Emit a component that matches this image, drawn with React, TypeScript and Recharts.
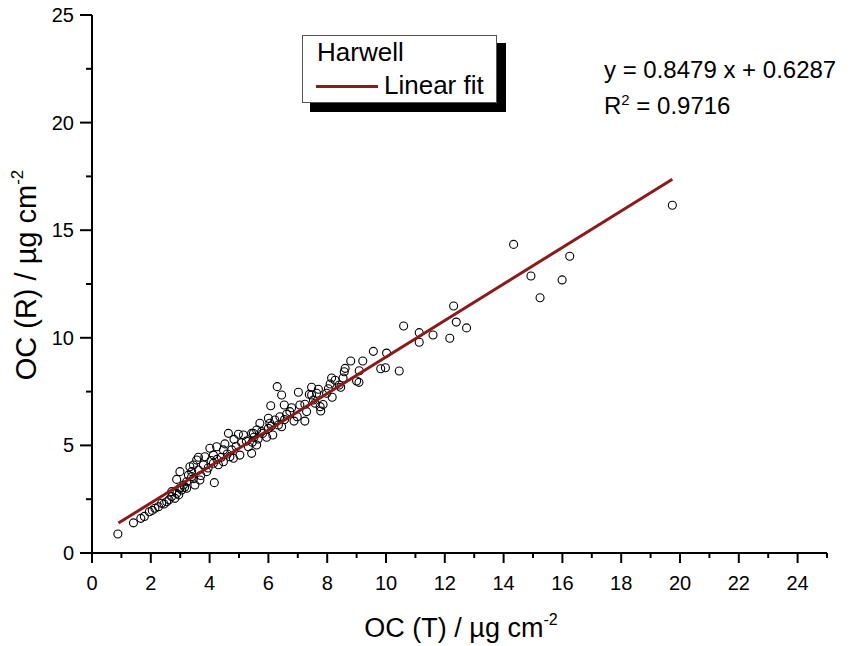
import { ScatterChart, Scatter, XAxis, YAxis } from 'recharts'

// OC (T) values, µg cm-2
const ocT = [
  0.88, 1.41, 1.66, 1.78, 1.95, 2.05, 2.14, 2.26, 2.37, 2.45, 2.54, 2.62, 2.71, 2.82, 2.88, 2.71, 2.95, 2.99, 2.88, 2.99,
  3.05, 3.11, 3.22, 3.22, 3.28, 3.33, 3.39, 3.39, 3.45, 3.5, 3.56, 3.62, 3.62, 3.67, 3.79, 3.84, 3.9, 3.45, 3.15, 3.7, 3.95,
  4.01, 4.13, 4.13, 4.16, 4.24, 4.47, 4.47, 4.52, 4.64, 4.69, 4.75, 4.81, 4.83, 4.98, 4.3, 4.4, 4.6, 4.9, 4.05, 4.25,
  5.03, 5.09, 5.15, 5.32, 5.43, 5.43, 5.49, 5.51, 5.6, 5.6, 5.71, 5.77, 5.94, 6.0, 5.25, 5.8, 5.45, 5.65,
  6.0, 6.05, 6.08, 6.15, 6.22, 6.3, 6.34, 6.39, 6.45, 6.45, 6.54, 6.62, 6.73, 6.79, 6.87, 6.98, 6.1, 6.55,
  7.02, 7.07, 7.24, 7.24, 7.3, 7.39, 7.47, 7.47, 7.53, 7.59, 7.64, 7.7, 7.76, 7.78, 7.86, 7.98,
  8.04, 8.1, 8.15, 8.17, 8.27, 8.41, 8.46, 8.54, 8.58, 8.61, 8.8, 9.0, 9.08, 9.09, 9.21,
  9.57, 9.82, 9.98, 10.02, 10.45, 10.6, 11.13, 11.13, 11.6, 12.17, 12.3, 12.39, 12.74,
  14.34, 14.93, 15.24, 15.99, 16.25, 19.74,
]

// OC (R) values, µg cm-2
const ocR = [
  0.88, 1.4, 1.61, 1.7, 1.92, 1.98, 2.08, 2.15, 2.31, 2.28, 2.38, 2.47, 2.62, 2.54, 2.77, 2.85, 2.7, 3.01, 3.42, 3.78,
  2.93, 3.16, 3.01, 3.31, 3.62, 4.01, 3.55, 3.78, 4.09, 3.16, 4.32, 3.86, 4.45, 3.39, 4.09, 4.47, 3.78, 3.45, 3.05, 3.6, 3.95,
  4.87, 4.17, 4.55, 3.27, 4.94, 4.24, 4.79, 5.07, 5.56, 4.47, 4.79, 4.4, 5.28, 5.52, 4.1, 4.45, 4.6, 4.95, 4.3, 4.35,
  4.55, 5.13, 5.48, 4.94, 4.63, 5.56, 5.56, 5.38, 5.02, 5.72, 6.03, 5.64, 5.38, 5.79, 5.2, 5.55, 5.15, 5.3,
  6.26, 6.03, 6.84, 5.48, 6.18, 7.73, 5.95, 6.33, 5.87, 7.34, 6.88, 6.45, 6.57, 6.75, 6.13, 6.33, 5.9, 6.2,
  7.47, 6.88, 6.13, 6.91, 6.57, 7.37, 7.7, 7.34, 7.11, 6.96, 7.42, 7.61, 6.8, 6.6, 6.9, 7.42,
  7.63, 7.85, 8.13, 7.24, 8.03, 7.81, 7.7, 8.13, 8.42, 8.58, 8.92, 7.99, 7.93, 8.47, 8.92,
  9.37, 8.56, 8.61, 9.29, 8.46, 10.55, 10.24, 9.79, 10.13, 9.98, 11.48, 10.73, 10.46,
  14.34, 12.87, 11.86, 12.69, 13.79, 16.16,
]

// linear fit end points (y = 0.8479 x + 0.6287)
const fitT = [0.9, 19.74]
const fitR = [1.39, 17.37]

const xTicks = [0, 1, 2, 3, 4, 5, 6, 7, 8, 9, 10, 11, 12, 13, 14, 15, 16, 17, 18, 19, 20, 21, 22, 23, 24, 25]
const yTicks = [0, 2.5, 5, 7.5, 10, 12.5, 15, 17.5, 20, 22.5, 25]

const points = ocT.map((t, i) => ({ x: t, y: ocR[i] }))
const fitData = fitT.map((t, i) => ({ x: t, y: fitR[i] }))

const FONT = 'Arial, "Liberation Sans", sans-serif'

function XTick(props: any) {
  const { x, y, payload } = props
  const major = payload.value % 2 === 0
  return (
    <g>
      <line x1={x} x2={x} y1={y} y2={y + (major ? 10 : 5)} stroke="#000" strokeWidth={2} />
      {major && payload.value <= 24 && (
        <text x={x} y={y + 37} textAnchor="middle" fontSize={20} fontFamily={FONT} fill="#000">
          {payload.value}
        </text>
      )}
    </g>
  )
}

function YTick(props: any) {
  const { x, y, payload } = props
  const major = payload.value % 5 === 0
  return (
    <g>
      <line x1={x - (major ? 12 : 6)} x2={x} y1={y} y2={y} stroke="#000" strokeWidth={2} />
      {major && (
        <text x={x - 18} y={y + 7} textAnchor="end" fontSize={20} fontFamily={FONT} fill="#000">
          {payload.value}
        </text>
      )}
    </g>
  )
}

function XTitle() {
  return (
    <text x={461} y={637} textAnchor="middle" fontSize={27} fontFamily={FONT} fill="#000">
      OC (T) / µg cm
      <tspan fontSize={16} dy={-12}>-2</tspan>
    </text>
  )
}

function YTitle() {
  return (
    <text
      x={36}
      y={275}
      textAnchor="middle"
      fontSize={29}
      fontFamily={FONT}
      fill="#000"
      transform="rotate(-90, 36, 275)"
    >
      <tspan x={36}>OC (R) / µg cm</tspan>
      <tspan fontSize={17} dy={-13}>-2</tspan>
    </text>
  )
}

const circle = (p: any) => (
  <circle cx={p.cx} cy={p.cy} r={4} fill="none" stroke="#000" strokeWidth={1.1} />
)

export default function App() {
  return (
    <div style={{ position: 'absolute', left: 0, top: 0, width: 863, height: 646, background: '#fff', fontFamily: FONT }}>
      <ScatterChart width={863} height={646} margin={{ top: 15, right: 36, left: 0, bottom: 0 }}>
        <XAxis
          type="number"
          dataKey="x"
          domain={[0, 25]}
          ticks={xTicks}
          interval={0}
          height={93}
          tickSize={0}
          tickMargin={0}
          tickLine={false}
          tick={XTick}
          axisLine={{ stroke: '#000', strokeWidth: 2 }}
          label={{ content: XTitle }}
        />
        <YAxis
          type="number"
          dataKey="y"
          domain={[0, 25]}
          ticks={yTicks}
          interval={0}
          width={92}
          tickSize={0}
          tickMargin={0}
          tickLine={false}
          tick={YTick}
          axisLine={{ stroke: '#000', strokeWidth: 2 }}
          label={{ content: YTitle }}
        />
        <Scatter data={points} shape={circle} isAnimationActive={false} />
        <Scatter
          data={fitData}
          line={{ stroke: '#8b1a1a', strokeWidth: 3 }}
          shape={() => <g />}
          isAnimationActive={false}
        />
      </ScatterChart>

      {/* legend box with drop shadow */}
      <div style={{ position: 'absolute', left: 310, top: 43, width: 196, height: 69, background: '#000' }} />
      <div
        style={{
          position: 'absolute',
          left: 302,
          top: 35,
          width: 193,
          height: 66,
          background: '#fff',
          border: '1px solid #555',
        }}
      >
        <div style={{ position: 'absolute', left: 14, top: 1, fontSize: 26, lineHeight: '30px' }}>Harwell</div>
        <div style={{ position: 'absolute', left: 13, top: 49, width: 62, height: 3, background: '#8b1a1a' }} />
        <div style={{ position: 'absolute', left: 81, top: 34, fontSize: 26, lineHeight: '30px' }}>Linear fit</div>
      </div>

      {/* fit equation */}
      <div style={{ position: 'absolute', left: 604, top: 55, fontSize: 24, lineHeight: '30px', whiteSpace: 'nowrap' }}>
        y = 0.8479 x + 0.6287
      </div>
      <div style={{ position: 'absolute', left: 604, top: 91, fontSize: 24, lineHeight: '30px', whiteSpace: 'nowrap' }}>
        R<sup style={{ fontSize: 15, verticalAlign: 9, lineHeight: 0 }}>2</sup> = 0.9716
      </div>
    </div>
  )
}
